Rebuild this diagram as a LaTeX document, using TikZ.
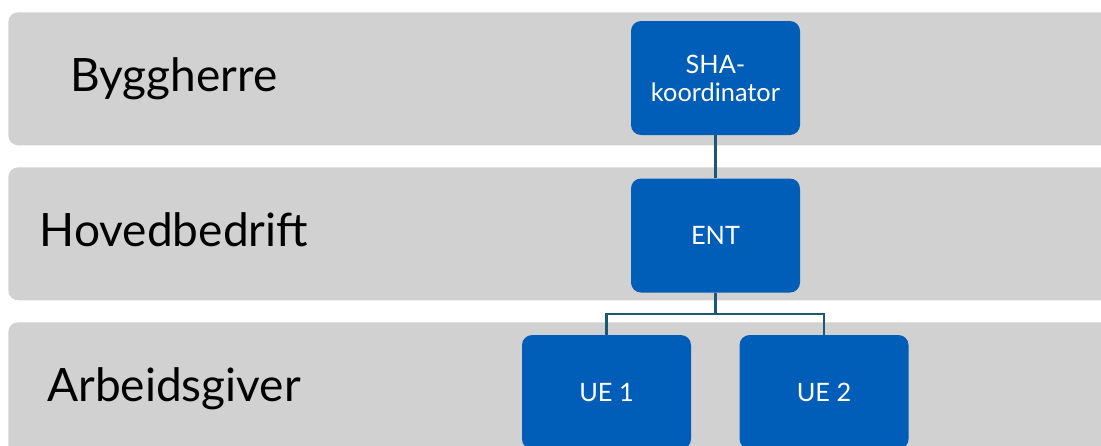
\documentclass[tikz,border=0pt]{standalone}
\usepackage{fontspec}
\setmainfont{Lato}
\usetikzlibrary{positioning, calc}

\definecolor{bandgrey}{RGB}{209,209,209}
\definecolor{unitblue}{RGB}{0,94,184}
\definecolor{linkteal}{RGB}{28,88,118}

\begin{document}
\begin{tikzpicture}[x=0.75pt, y=-0.75pt,
    band/.style={fill=bandgrey, rounded corners=7.5pt, anchor=north west, minimum width=840pt, minimum height=99.75pt, inner sep=0pt},
    tier/.style={anchor=base, font=\fontsize{34.5}{40}\selectfont},
    unit/.style={fill=unitblue, rounded corners=7.5pt, minimum width=126.75pt, minimum height=85.5pt, text=white, align=center, font=\fontsize{19}{21}\selectfont},
    link/.style={draw=linkteal, line width=1.6pt}]
    \useasboundingbox (0,0) rectangle (1101,446);
    \clip (0,0) rectangle (1101,446);

    % grey tiers
    \node[band] (bygg) at (8,12) {};
    \node[band] (hoved) at (8,167) {};
    \node[band] (arb) at (8,322) {};
    \node[tier] (lblbygg) at (174,91) {Byggherre};
    \node[tier] (lblhoved) at (174,246) {Hovedbedrift};
    \node[tier] (lblarb) at (174,401) {Arbeidsgiver};

    % units
    \node[unit] (sha) at (715.5,78) {SHA-\\koordinator};
    \node[unit, below=32.25pt of sha] (ent) {ENT};
    \node[unit, below=31.5pt of ent, xshift=-81.75pt] (ue1) {UE 1};
    \node[unit, below=31.5pt of ent, xshift=81.4pt] (ue2) {UE 2};

    \draw[link] (sha) -- (ent);
    \draw[link] (ent.south) -- ++(0,-15.75pt) coordinate (fork) -| (ue1.north);
    \draw[link] (fork) -| (ue2.north);
\end{tikzpicture}
\end{document}
